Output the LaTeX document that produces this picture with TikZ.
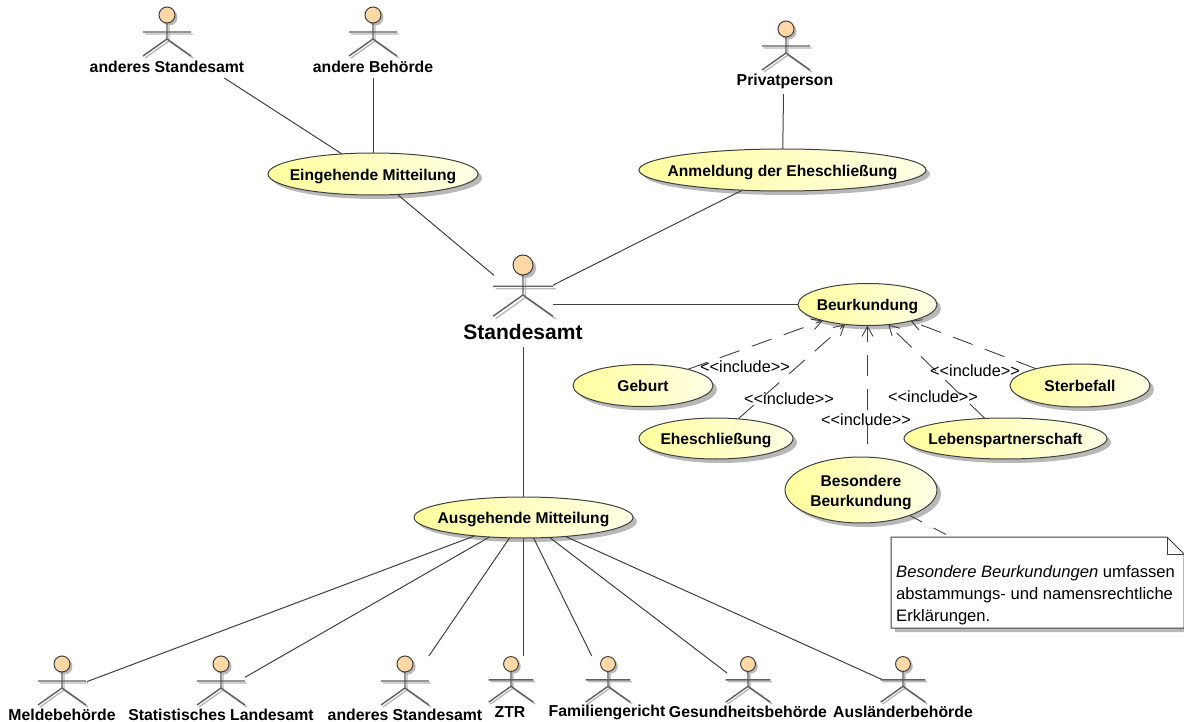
\documentclass[tikz,border=0pt]{standalone}
\usepackage{fontspec}
\setmainfont{Liberation Sans}
\usetikzlibrary{shapes.geometric,arrows.meta}
\definecolor{linec}{HTML}{404040}
\definecolor{actc}{HTML}{5E5E5E}
\definecolor{shadc}{HTML}{B8B8B8}
\definecolor{headc}{HTML}{FFD8A6}
\definecolor{ucl}{HTML}{FFFF9E}
\definecolor{ucr}{HTML}{FFFFE6}
\tikzset{
  ucbase/.style={ellipse,inner sep=0pt,outer sep=0pt},
  ucase/.style={ucbase,draw=linec,line width=1pt,left color=ucl,right color=ucr,font=\fontsize{15.6}{20}\selectfont\bfseries},
  ucshadow/.style={ucbase,fill=shadc},
  actorbox/.style={rectangle,inner sep=0pt,outer sep=0pt},
  actorlabel/.style={inner sep=0pt,font=\fontsize{15.8}{18}\selectfont\bfseries},
  assoc/.style={draw=linec,line width=1pt},
  dep/.style={draw=linec,line width=.9pt,dash pattern=on 21pt off 13pt,-{Straight Barb[length=10pt,width=11pt]}},
  notedash/.style={draw=linec,line width=.9pt,dash pattern=on 14pt off 13pt},
  inclabel/.style={inner sep=0pt,font=\fontsize{16.3}{18}\selectfont},
  notetext/.style={inner sep=0pt,align=left,anchor=north west,font=\fontsize{16.6}{22}\selectfont}
}
\newcommand{\ucnode}[6]{%
  \node[ucshadow,minimum width=#4pt,minimum height=#5pt,xshift=4pt,yshift=-4pt] at (#2,#3) {};
  \node[ucase,minimum width=#4pt,minimum height=#5pt] (#1) at (#2,#3) {\makebox[0pt]{\smash{\raisebox{-6pt}{\begin{tabular}[c]{@{}c@{}}#6\end{tabular}}}}};
}
\newcommand{\actorfig}[3]{%
  \begin{scope}[shift={(#1,#2)},scale=#3]
    \draw[shadc,line width=1.4pt,shift={(2,2)}] (0,8)--(0,24) (-24,17)--(24,17) (-24,41)--(0,24)--(24,41);
    \fill[shadc] (2.5,2.5) circle[radius=8];
    \draw[actc,line width=1.4pt] (0,8)--(0,24) (-24,17)--(24,17) (-24,41)--(0,24)--(24,41);
    \draw[linec,line width=1pt,fill=headc] (0,0) circle[radius=8];
  \end{scope}
}
\begin{document}
\begin{tikzpicture}[x=1pt,y=-1pt]
\useasboundingbox (0,0) rectangle (1184,722);
% actor boxes
\node[actorbox,minimum width=159pt,minimum height=74pt] (a1) at (167,41) {};
\node[actorbox,minimum width=120pt,minimum height=74pt] (a2) at (373,41) {};
\node[actorbox,minimum width=96pt,minimum height=76pt] (a3) at (784,56) {};
\node[actorbox,minimum width=59pt,minimum height=94pt] (std) at (523.5,300) {};
\node[actorbox,minimum width=50pt,minimum height=70pt] (b1) at (62,691) {};
\node[actorbox,minimum width=48pt,minimum height=70pt] (b2) at (221,691) {};
\node[actorbox,minimum width=48pt,minimum height=70pt] (b3) at (405,691) {};
\node[actorbox,minimum width=44pt,minimum height=66pt] (b4) at (511,689) {};
\node[actorbox,minimum width=44pt,minimum height=66pt] (b5) at (608,689) {};
\node[actorbox,minimum width=42pt,minimum height=66pt] (b6) at (748,689) {};
\node[actorbox,minimum width=42pt,minimum height=66pt] (b7) at (903,689) {};
% actors
\actorfig{167}{15}{1}
\actorfig{373}{15}{1}
\actorfig{786}{29}{1}
\actorfig{523}{265}{1.25}
\actorfig{62}{664}{1}
\actorfig{221}{664}{1}
\actorfig{405}{664}{1}
\actorfig{511}{664}{.93}
\actorfig{608}{664}{.93}
\actorfig{748}{664}{.93}
\actorfig{903}{664}{.93}
% actor labels
\node[actorlabel] (l1) at (167,67) {anderes Standesamt};
\node[actorlabel] (l2) at (373,67) {andere Behörde};
\node[actorlabel] (l3) at (785,81) {Privatperson};
\node[inner sep=0pt,font=\fontsize{21}{24}\selectfont\bfseries] (l4) at (523,332) {Standesamt};
\node[actorlabel] (l5) at (62,715) {Meldebehörde};
\node[actorlabel] (l6) at (221,715) {Statistisches Landesamt};
\node[actorlabel] (l7) at (405,715) {anderes Standesamt};
\node[actorlabel] (l8) at (510,712) {ZTR};
\node[actorlabel] (l9) at (607,712) {Familiengericht};
\node[actorlabel] (l10) at (748,712) {Gesundheitsbehörde};
\node[actorlabel] (l11) at (903,712) {Ausländerbehörde};
% use cases
\ucnode{ein}{373}{174}{210}{42}{Eingehende Mitteilung}
\ucnode{anm}{782.5}{170}{287}{42}{Anmeldung der Eheschließung}
\ucnode{beu}{867.5}{304.5}{139}{42}{Beurkundung}
\ucnode{geb}{643}{385.5}{140}{42}{Geburt}
\ucnode{ehe}{716}{438.5}{154}{41}{Eheschließung}
\ucnode{leb}{1005.5}{438.5}{203}{41}{Lebenspartnerschaft}
\ucnode{ste}{1080}{385.5}{140}{43}{Sterbefall}
\ucnode{bes}{861}{490}{152}{66}{Besondere\\Beurkundung}
\ucnode{aus}{523.5}{517.5}{219}{41}{Ausgehende Mitteilung}
% note
\node[actorbox,minimum width=293pt,minimum height=91pt] (nt) at (1037.5,582.5) {};
\fill[shadc] (895,541) -- (1171,541) -- (1188,558) -- (1188,632) -- (895,632) -- cycle;
\draw[linec,line width=1pt,fill=white] (891,537) -- (1167,537) -- (1184,554) -- (1184,628) -- (891,628) -- cycle;
\draw[linec,line width=1pt] (1167,537) -- (1167,554) -- (1184,554);
\node[notetext] (ntx) at (896,565) {\textit{Besondere Beurkundungen} umfassen\\abstammungs- und namensrechtliche\\Erklärungen.};
% associations
\draw[assoc] (a1) -- (ein);
\draw[assoc] (a2) -- (ein);
\draw[assoc] (a3) -- (anm);
\draw[assoc] (ein) -- (std);
\draw[assoc] (anm) -- (std);
\draw[assoc] (std.east |- beu) -- (beu);
\draw[assoc] (std) -- (aus);
\draw[assoc] (aus) -- (b1);
\draw[assoc] (aus) -- (b2);
\draw[assoc] (aus) -- (b3);
\draw[assoc] (aus.south) -- (aus.south |- b4.north);
\draw[assoc] (aus) -- (b5);
\draw[assoc] (aus) -- (b6);
\draw[assoc] (aus) -- (b7);
% includes
\draw[dep] (geb) -- (beu);
\draw[dep] (ehe) -- (beu);
\draw[dep] ([yshift=13pt]bes.north -| beu) -- (beu);
\draw[dep] (leb) -- (beu);
\draw[dep] (ste) -- (beu);
\draw[notedash] (bes) -- (nt);
\node[inclabel] (i1) at (745,367) {<{}<include>{}>};
\node[inclabel] (i2) at (789,399) {<{}<include>{}>};
\node[inclabel] (i3) at (866,420) {<{}<include>{}>};
\node[inclabel] (i4) at (933,397) {<{}<include>{}>};
\node[inclabel] (i5) at (975,371) {<{}<include>{}>};
\end{tikzpicture}
\end{document}
